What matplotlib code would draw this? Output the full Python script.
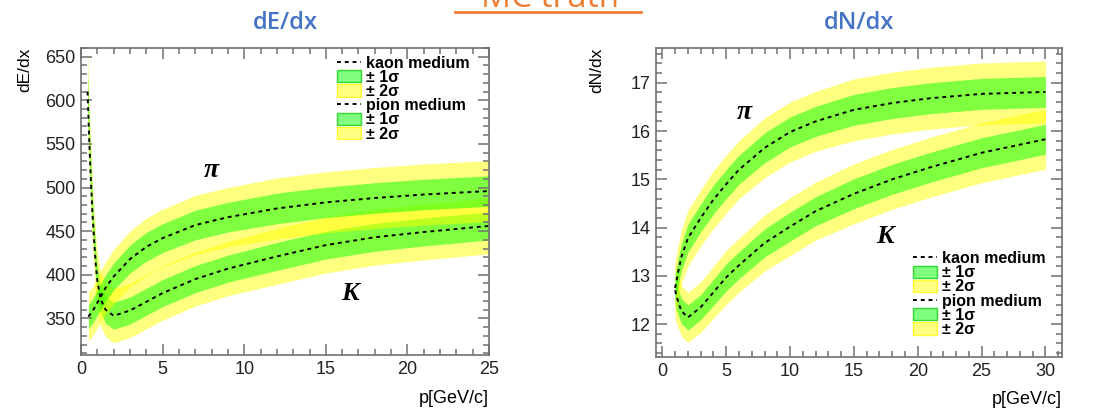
import numpy as np
import matplotlib
matplotlib.use("Agg")
from matplotlib import pyplot as plt
from matplotlib.lines import Line2D
from matplotlib.patches import Patch
from matplotlib.ticker import MultipleLocator

plt.rcParams['font.family'] = ['Liberation Sans', 'DejaVu Sans']

# dE/dx panel
p_pion_E = [0.45, 0.7, 1.0, 1.5, 2, 3, 4, 5, 7, 9, 12, 15, 18, 21, 25]
pion_E = [352, 358, 368, 385, 398, 418, 432, 442, 457, 466, 476, 483, 488, 492, 496]
pion_E_sig = [14, 14, 14.5, 15, 15.5, 16, 16.5, 16.5, 17, 17, 17.5, 17.5, 17.5, 17.5, 17.5]

p_kaon_E = [0.4, 0.5, 0.6, 0.7, 0.8, 0.9, 1.0, 1.2, 1.5, 2, 3, 4, 5, 7, 9, 12, 15, 18, 21, 25]
kaon_E = [610, 555, 510, 470, 440, 412, 393, 372, 360, 353, 359, 369, 379, 395, 407, 421, 434, 443, 449, 456]
kaon_E_sig = [22, 20, 19, 18, 17, 16.5, 16, 15.5, 15.5, 15.5, 15.5, 15.5, 15.5, 15.5, 15.5, 16, 16, 16, 16, 16]

# dN/dx panel
p_N = [1.0, 1.25, 1.5, 2, 3, 4, 5, 6, 8, 10, 12, 15, 18, 21, 25, 30]
pion_N = [12.75, 13.1, 13.4, 13.78, 14.2, 14.58, 14.9, 15.2, 15.65, 15.98, 16.2, 16.44, 16.58, 16.68, 16.77, 16.81]
pion_N_sig = [0.28, 0.28, 0.28, 0.29, 0.29, 0.3, 0.3, 0.3, 0.31, 0.31, 0.31, 0.32, 0.32, 0.32, 0.32, 0.32]
kaon_N = [12.7, 12.45, 12.27, 12.14, 12.35, 12.66, 12.97, 13.22, 13.68, 14.02, 14.34, 14.7, 15.0, 15.25, 15.55, 15.83]
kaon_N_sig = [0.3, 0.27, 0.26, 0.26, 0.26, 0.27, 0.28, 0.28, 0.29, 0.3, 0.3, 0.31, 0.31, 0.31, 0.31, 0.31]

YEL = (1, 1, 0, 0.5)
GRN = (0, 1, 0, 0.5)
FRAME = '#707070'


def band(ax, p, mean, sig):
    p = np.array(p)
    mean = np.array(mean, dtype=float)
    sig = np.array(sig, dtype=float)
    ax.fill_between(p, mean - 2 * sig, mean + 2 * sig, color=YEL, lw=0)
    ax.fill_between(p, mean - sig, mean + sig, color=GRN, lw=0)
    ax.plot(p, mean, color='black', ls=(0, (2, 2)), lw=1.4)


def style(ax, xmaj, ymaj, ymin):
    for s in ax.spines.values():
        s.set_color(FRAME)
        s.set_linewidth(1.2)
    ax.xaxis.set_major_locator(MultipleLocator(xmaj))
    ax.xaxis.set_minor_locator(MultipleLocator(1))
    ax.yaxis.set_major_locator(MultipleLocator(ymaj))
    ax.yaxis.set_minor_locator(MultipleLocator(ymin))
    ax.tick_params(which='both', direction='in', top=True, right=True,
                   color=FRAME, width=1.1, labelsize=13, labelcolor='#222222')
    ax.tick_params(which='major', length=8, pad=4)
    ax.tick_params(which='minor', length=4)


def legend(ax, x, y):
    line = Line2D([], [], color='black', ls=(0, (2, 2)), lw=1.4)
    g = Patch(facecolor=(0.5, 1, 0.5), edgecolor=(0.2, 0.85, 0.2), lw=1)
    yl = Patch(facecolor=(1, 1, 0.5), edgecolor=(1, 1, 0.2), lw=1)
    ax.legend([line, g, yl, line, g, yl],
              ['kaon medium', '± 1σ', '± 2σ', 'pion medium', '± 1σ', '± 2σ'],
              loc='upper left', bbox_to_anchor=(x, y), frameon=False,
              prop={'weight': 'bold', 'size': 11.5}, handlelength=1.5,
              handleheight=0.8, handletextpad=0.3, labelspacing=-0.05,
              borderpad=0, borderaxespad=0)


fig = plt.figure(figsize=(11.01, 4.11), dpi=100)

ax1 = fig.add_axes([0.0736, 0.1363, 0.3706, 0.7469])
band(ax1, p_kaon_E, kaon_E, kaon_E_sig)
band(ax1, p_pion_E, pion_E, pion_E_sig)
ax1.set_xlim(0, 25)
ax1.set_ylim(308, 660)
style(ax1, 5, 50, 10)
legend(ax1, 0.627, 0.975)
ax1.text(8.0, 520, 'π', fontsize=20, fontweight='bold', style='italic',
         family='Liberation Serif', ha='center', va='center')
ax1.text(16.5, 378, 'K', fontsize=19, fontweight='bold', style='italic',
         family='Liberation Serif', ha='center', va='center')
ax1.set_ylabel('dE/dx', fontsize=12.5)
ax1.yaxis.set_label_coords(-0.12, 1.0)
ax1.yaxis.label.set_ha('right')
ax1.set_xlabel('p[GeV/c]', fontsize=13)
ax1.xaxis.set_label_coords(1.0, -0.115)
ax1.xaxis.label.set_ha('right')
ax1.set_title('dE/dx', color='#4472C4', fontsize=17, fontweight='semibold',
              family='Open Sans', pad=14)

ax2 = fig.add_axes([0.5958, 0.1314, 0.3688, 0.7518])
band(ax2, p_N, kaon_N, kaon_N_sig)
band(ax2, p_N, pion_N, pion_N_sig)
ax2.set_xlim(-0.5, 31.3)
ax2.set_ylim(11.32, 17.72)
style(ax2, 5, 1, 0.2)
legend(ax2, 0.633, 0.343)
ax2.text(6.4, 16.38, 'π', fontsize=20, fontweight='bold', style='italic',
         family='Liberation Serif', ha='center', va='center')
ax2.text(17.4, 13.81, 'K', fontsize=19, fontweight='bold', style='italic',
         family='Liberation Serif', ha='center', va='center')
ax2.set_ylabel('dN/dx', fontsize=12.5)
ax2.yaxis.set_label_coords(-0.128, 1.0)
ax2.yaxis.label.set_ha('right')
ax2.set_xlabel('p[GeV/c]', fontsize=13)
ax2.xaxis.set_label_coords(1.0, -0.11)
ax2.xaxis.label.set_ha('right')
ax2.set_title('dN/dx', color='#4472C4', fontsize=17, fontweight='semibold',
              family='Open Sans', pad=14)

# "MC truth" header, cut by the top edge as in the slide
fig.text(0.5, 1 - 7 / 411, 'MC truth', color='#ED7D31', fontsize=24,
         family='Open Sans', ha='center', va='baseline')
fig.add_artist(Line2D([455 / 1101, 641 / 1101], [1 - 12 / 411, 1 - 12 / 411],
                      color='#ED7D31', lw=2))

fig.savefig('out.png', dpi=100)
